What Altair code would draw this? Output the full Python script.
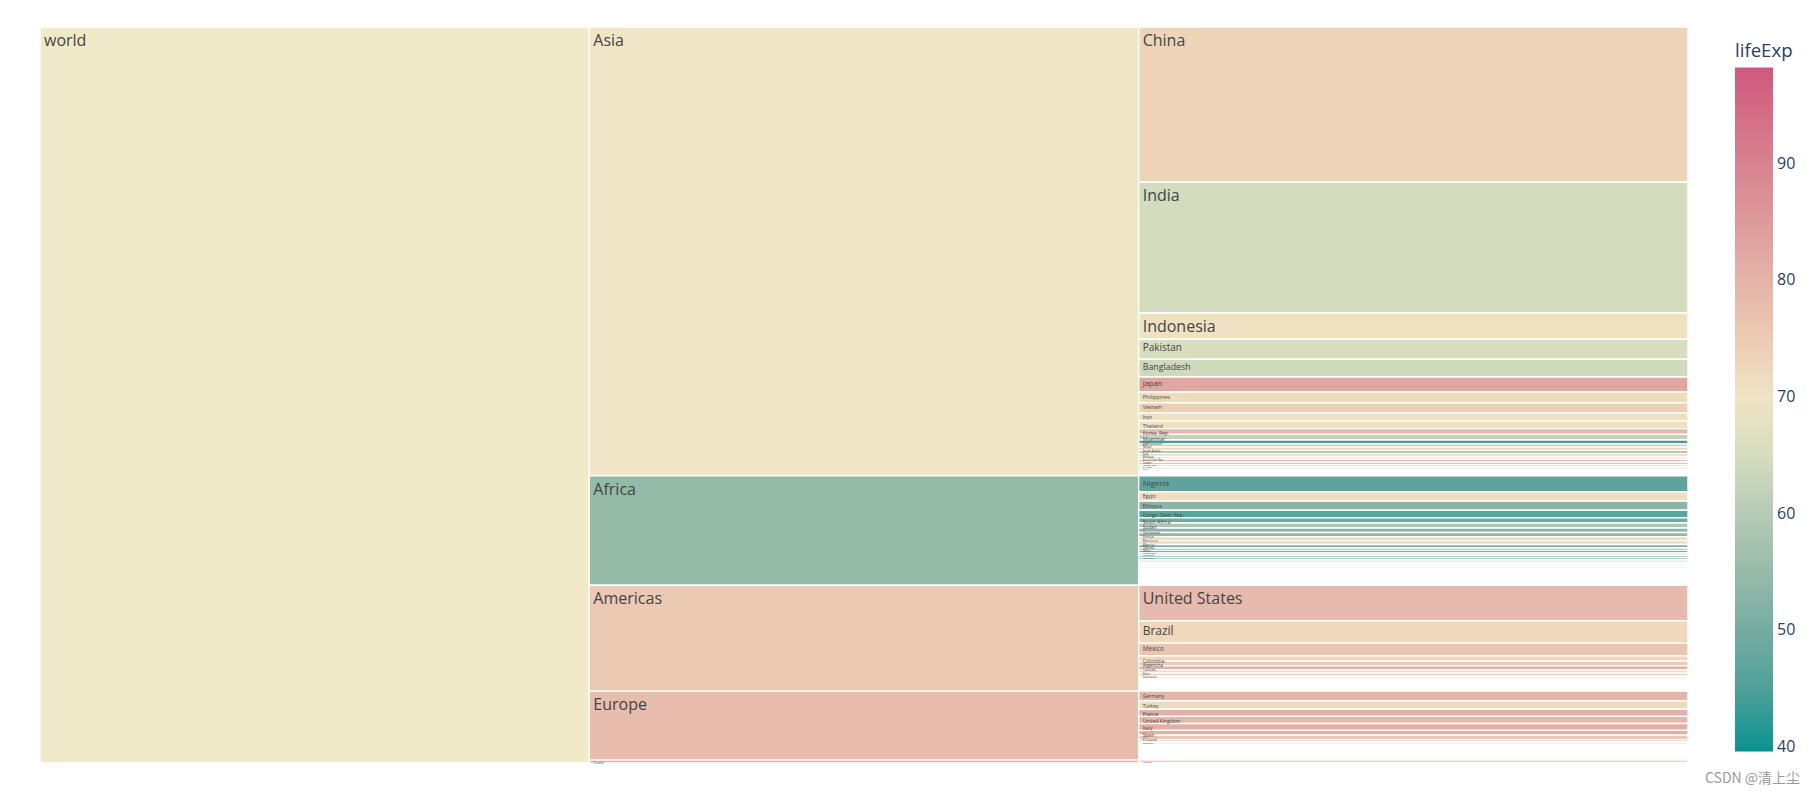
import altair as alt
import pandas as pd
import numpy as np

# ---- data (gapminder 2007) ----
countries = [
    # Asia
    "Afghanistan", "Bahrain", "Bangladesh", "Cambodia", "China", "Hong Kong, China", "India", "Indonesia",
    "Iran", "Iraq", "Israel", "Japan", "Jordan", "Korea, Dem. Rep.", "Korea, Rep.", "Kuwait", "Lebanon",
    "Malaysia", "Mongolia", "Myanmar", "Nepal", "Oman", "Pakistan", "Philippines", "Saudi Arabia",
    "Singapore", "Sri Lanka", "Syria", "Taiwan", "Thailand", "Vietnam", "West Bank and Gaza", "Yemen, Rep.",
    # Europe
    "Albania", "Austria", "Belgium", "Bosnia and Herzegovina", "Bulgaria", "Croatia", "Czech Republic",
    "Denmark", "Finland", "France", "Germany", "Greece", "Hungary", "Iceland", "Ireland", "Italy",
    "Montenegro", "Netherlands", "Norway", "Poland", "Portugal", "Romania", "Serbia", "Slovak Republic",
    "Slovenia", "Spain", "Sweden", "Switzerland", "Turkey", "United Kingdom",
    # Americas
    "Argentina", "Bolivia", "Brazil", "Canada", "Chile", "Colombia", "Costa Rica", "Cuba",
    "Dominican Republic", "Ecuador", "El Salvador", "Guatemala", "Haiti", "Honduras", "Jamaica", "Mexico",
    "Nicaragua", "Panama", "Paraguay", "Peru", "Puerto Rico", "Trinidad and Tobago", "United States",
    "Uruguay", "Venezuela",
    # Oceania
    "Australia", "New Zealand",
    # Africa
    "Algeria", "Angola", "Benin", "Botswana", "Burkina Faso", "Burundi", "Cameroon",
    "Central African Republic", "Chad", "Comoros", "Congo, Dem. Rep.", "Congo, Rep.", "Cote d'Ivoire",
    "Djibouti", "Egypt", "Equatorial Guinea", "Eritrea", "Ethiopia", "Gabon", "Gambia", "Ghana", "Guinea",
    "Guinea-Bissau", "Kenya", "Lesotho", "Liberia", "Libya", "Madagascar", "Malawi", "Mali", "Mauritania",
    "Mauritius", "Morocco", "Mozambique", "Namibia", "Niger", "Nigeria", "Reunion", "Rwanda",
    "Sao Tome and Principe", "Senegal", "Sierra Leone", "Somalia", "South Africa", "Sudan", "Swaziland",
    "Tanzania", "Togo", "Tunisia", "Uganda", "Zambia", "Zimbabwe",
]
continents = (["Asia"] * 33 + ["Europe"] * 30 + ["Americas"] * 25 + ["Oceania"] * 2 + ["Africa"] * 52)
life_exp = [
    43.828, 75.635, 64.062, 59.723, 72.961, 82.208, 64.698, 70.650, 70.964, 59.545, 80.745, 82.603, 72.535,
    67.297, 78.623, 77.588, 71.993, 74.241, 66.803, 62.069, 63.785, 75.640, 65.483, 71.688, 72.777, 79.972,
    72.396, 74.143, 78.400, 70.616, 74.249, 73.422, 62.698,
    76.423, 79.829, 79.441, 74.852, 73.005, 75.748, 76.486, 78.332, 79.313, 80.657, 79.406, 79.483, 73.338,
    81.757, 78.885, 80.546, 74.543, 79.762, 80.196, 75.563, 78.098, 72.476, 74.002, 74.663, 77.926, 80.941,
    80.884, 81.701, 71.777, 79.425,
    75.320, 65.554, 72.390, 80.653, 78.553, 72.889, 78.782, 78.273, 72.235, 74.994, 71.878, 70.259, 60.916,
    70.198, 72.567, 76.195, 72.899, 75.537, 71.752, 71.421, 78.746, 69.819, 78.242, 76.384, 73.747,
    81.235, 80.204,
    72.301, 42.731, 56.728, 50.728, 52.295, 49.580, 50.430, 44.741, 50.651, 65.152, 46.462, 55.322, 48.328,
    54.791, 71.338, 51.579, 58.040, 52.947, 56.735, 59.448, 60.022, 56.007, 46.388, 54.110, 42.592, 45.678,
    73.952, 59.443, 48.303, 54.467, 64.164, 72.801, 71.164, 42.082, 52.906, 56.867, 46.859, 76.442, 46.242,
    65.528, 63.062, 42.568, 48.159, 49.339, 58.556, 39.613, 52.517, 58.420, 73.923, 51.542, 42.384, 43.487,
]
population = [
    31889923, 708573, 150448339, 14131858, 1318683096, 6980412, 1110396331, 223547000, 69453570, 27499638,
    6426679, 127467972, 6053193, 23301725, 49044790, 2505559, 3921278, 24821286, 2874127, 47761980,
    28901790, 3204897, 169270617, 91077287, 27601038, 4553009, 20378239, 19314747, 23174294, 65068149,
    85262356, 4018332, 22211743,
    3600523, 8199783, 10392226, 4552198, 7322858, 4493312, 10228744, 5468120, 5238460, 61083916, 82400996,
    10706290, 9956108, 301931, 4109086, 58147733, 684736, 16570613, 4627926, 38518241, 10642836, 22276056,
    10150265, 5447502, 2009245, 40448191, 9031088, 7554661, 71158647, 60776238,
    40301927, 9119152, 190010647, 33390141, 16284741, 44227550, 4133884, 11416987, 9319622, 13755680,
    6939688, 12572928, 8502814, 7483763, 2780132, 108700891, 5675356, 3242173, 6667147, 28674757, 3942491,
    1056608, 301139947, 3447496, 26084662,
    20434176, 4115771,
    33333216, 12420476, 8078314, 1639131, 14326203, 8390505, 17696293, 4369038, 10238807, 710960, 64606759,
    3800610, 18013409, 496374, 80264543, 551201, 4906585, 76511887, 1454867, 1688359, 22873338, 9947814,
    1472041, 35610177, 2012649, 3193942, 6036914, 19167654, 13327079, 12031795, 3270065, 1250882, 33757175,
    19951656, 2055080, 12894865, 135031164, 798094, 8860588, 199579, 12267493, 6144562, 9118773, 43997828,
    42292929, 1133066, 38139640, 5701579, 10276158, 29170398, 11746035, 12311143,
]
legend_ticks = [40, 50, 60, 70, 80, 90]
tealrose = ["#009392", "#72aaa1", "#b1c7b3", "#f1eac8", "#e5b9ad", "#d98994", "#d0587e"]

PLOT_W, PLOT_H = 1648, 736

df = pd.DataFrame({"country": countries, "continent": continents,
                   "lifeExp": life_exp, "pop": population})
total = df["pop"].sum()
mid = np.average(df["lifeExp"], weights=df["pop"])
lo = df["lifeExp"].min()
hi = 2 * mid - lo

rows = [{"label": "world", "level": 0, "y0": 0.0, "y1": float(total), "lifeExp": float(mid)}]
cont = (df.groupby("continent")
          .apply(lambda g: pd.Series({"pop": g["pop"].sum(),
                                      "lifeExp": np.average(g["lifeExp"], weights=g["pop"])}),
                 include_groups=False)
          .sort_values("pop", ascending=False))
start = 0.0
for name, r in cont.iterrows():
    rows.append({"label": name, "level": 1, "y0": start, "y1": start + r["pop"], "lifeExp": r["lifeExp"]})
    s2 = start
    sub = df[df["continent"] == name].sort_values("pop", ascending=False)
    for _, c in sub.iterrows():
        rows.append({"label": c["country"], "level": 2, "y0": s2, "y1": s2 + c["pop"], "lifeExp": c["lifeExp"]})
        s2 += c["pop"]
    start += r["pop"]

tiles = pd.DataFrame(rows)
tiles["level2"] = tiles["level"] + 1
h_px = (tiles["y1"] - tiles["y0"]) / total * PLOT_H
fs = np.maximum(np.maximum(1.05 * (h_px - 11), 0.5 * h_px), np.minimum(0.95 * h_px, 5.0))
tiles["fs"] = np.minimum(fs, 16)
tiles["ytext"] = tiles["y0"] + (1.1 * tiles["fs"] + 1.2) / PLOT_H * total
labels = tiles[tiles["fs"] >= 2.0]

stops = list(np.linspace(lo, hi, 7))

xscale = alt.Scale(domain=[0, 3], nice=False, zero=False)
yscale = alt.Scale(domain=[0, float(total)], reverse=True, nice=False, zero=False)

rects = alt.Chart(tiles).mark_rect(stroke="white", strokeWidth=1.4).encode(
    x=alt.X("level:Q", scale=xscale, axis=None),
    x2="level2:Q",
    y=alt.Y("y0:Q", scale=yscale, axis=None),
    y2="y1:Q",
    color=alt.Color(
        "lifeExp:Q",
        scale=alt.Scale(domain=stops, range=tealrose),
        legend=alt.Legend(
            title="lifeExp", orient="none", legendX=1695, legendY=15, direction="vertical",
            gradientLength=684, gradientThickness=38, gradientStrokeWidth=0,
            values=legend_ticks, labelFontSize=16, labelColor="#2a3f5f", labelOffset=4,
            labelFont="Open Sans", titleFont="Open Sans", titleFontSize=18.6,
            titleFontWeight="normal", titleColor="#2a3f5f", titlePadding=7,
        ),
    ),
)

texts = alt.Chart(labels).mark_text(
    align="left", baseline="alphabetic", dx=4, font="Open Sans", color="#444"
).encode(
    x=alt.X("level:Q", scale=xscale, axis=None),
    y=alt.Y("ytext:Q", scale=yscale, axis=None),
    text="label:N",
    size=alt.Size("fs:Q", scale=None, legend=None),
)

wm = alt.Chart(pd.DataFrame({"t": ["CSDN @清上尘"]})).mark_text(
    align="left", baseline="middle", font="Noto Sans CJK SC", fontSize=14, color="#9a9a9a"
).encode(x=alt.value(1665), y=alt.value(752), text="t:N")

chart = (rects + texts + wm).properties(
    width=PLOT_W, height=PLOT_H,
    autosize=alt.AutoSizeParams(type="none"),
    padding={"left": 40, "top": 27, "right": 131, "bottom": 32},
    background="white",
).configure_view(stroke=None)

chart.save("out.html", embed_options={"renderer": "svg", "actions": False})
